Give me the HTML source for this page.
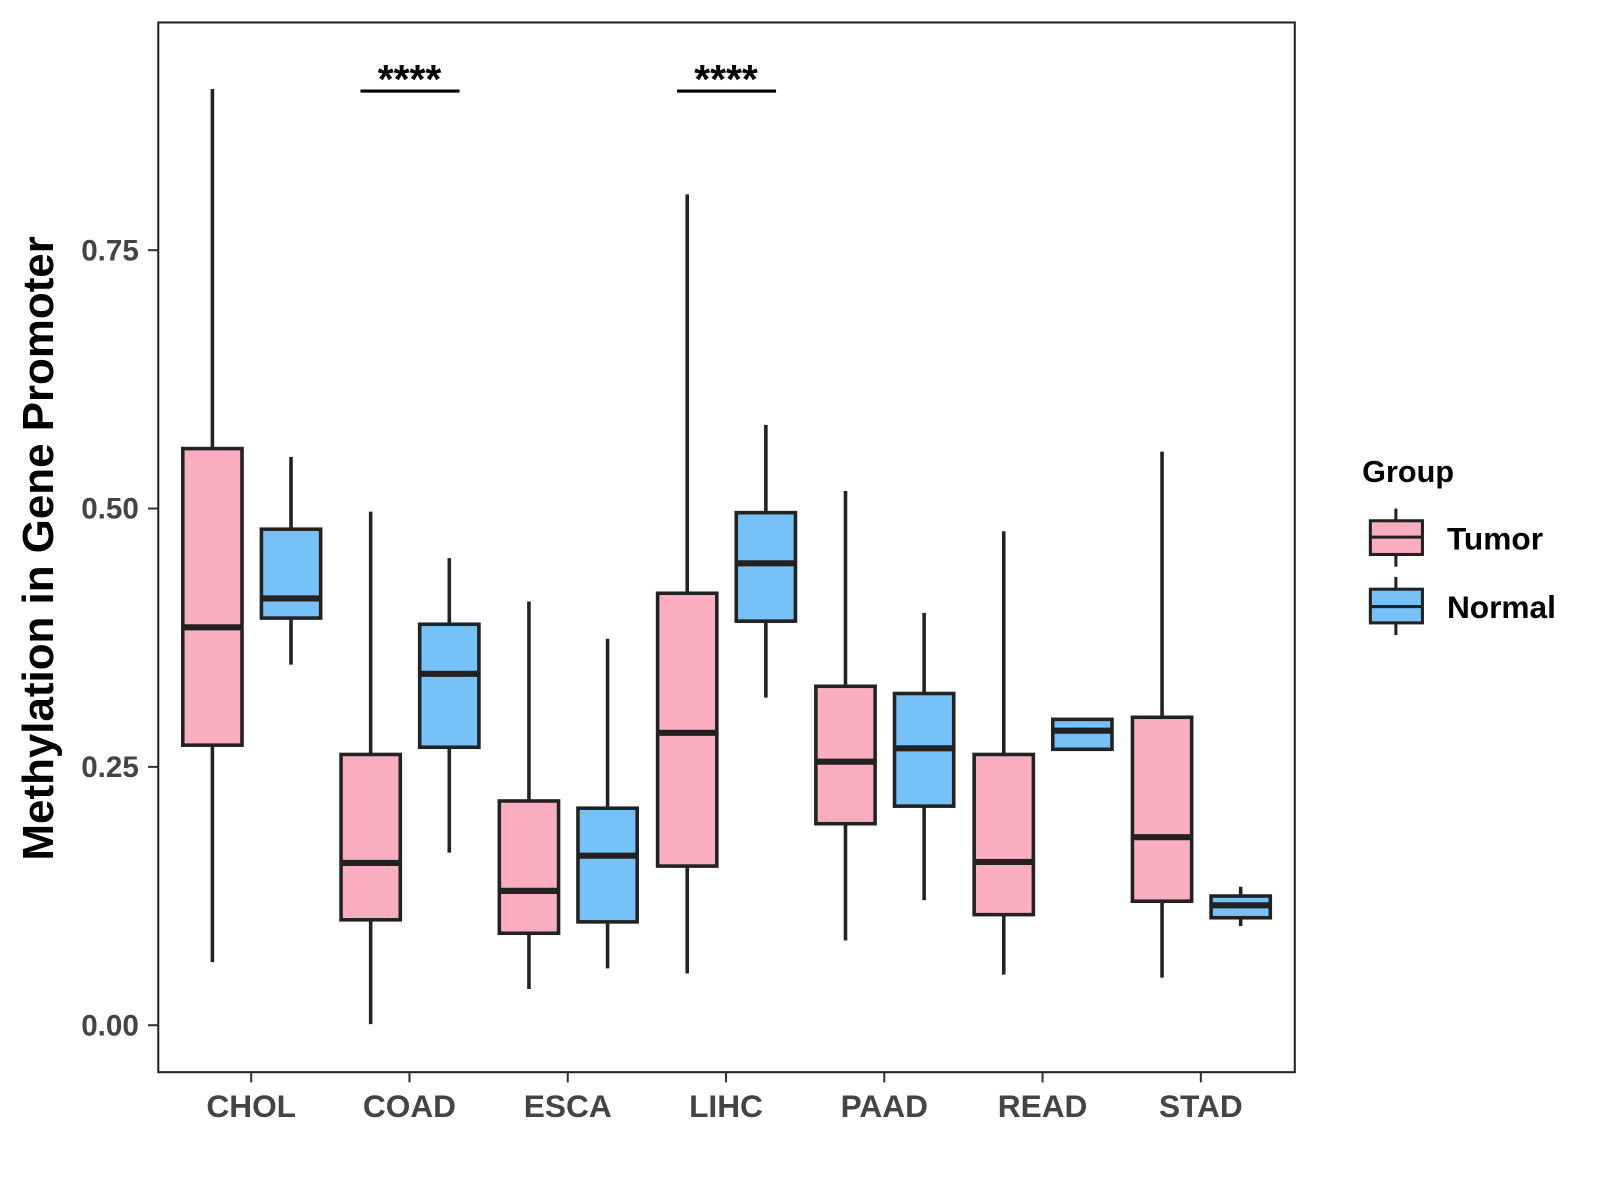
<!DOCTYPE html>
<html><head><meta charset="utf-8"><style>
body{margin:0;background:#fff}
svg{display:block;font-family:"Liberation Sans",Arial,sans-serif}
</style></head><body>
<svg id="chart" width="1600" height="1200" viewBox="0 0 1600 1200">
<g transform="scale(1.02113)">
<rect x="155" y="22" width="1113" height="1028" fill="#fff" stroke="#222" stroke-width="2"/>
<g id="marks"></g>
<g id="axes"></g>
<text x="0" y="0" transform="translate(52,537) rotate(-90)" text-anchor="middle" font-size="43" font-weight="bold" fill="#000">Methylation in Gene Promoter</text>
<g>
<text x="1334" y="472" font-size="30" font-weight="bold">Group</text>
<g>
<line x1="1367" y1="498" x2="1367" y2="555" stroke="#222" stroke-width="3"/>
<rect x="1342" y="510" width="51" height="33" fill="#FBAEC0" stroke="#222" stroke-width="3"/>
<line x1="1342" y1="526" x2="1393" y2="526" stroke="#222" stroke-width="3"/>
<text x="1417" y="538" font-size="31" font-weight="bold">Tumor</text></g>
<g>
<line x1="1367" y1="565" x2="1367" y2="622" stroke="#222" stroke-width="3"/>
<rect x="1342" y="577" width="51" height="33" fill="#75C1F8" stroke="#222" stroke-width="3"/>
<line x1="1342" y1="594" x2="1393" y2="594" stroke="#222" stroke-width="3"/>
<text x="1417" y="605" font-size="31" font-weight="bold">Normal</text></g>
</g>
</g>
</svg>
<script>
const categories=["CHOL","COAD","ESCA","LIHC","PAAD","READ","STAD"];
const tumorStats=[[0.061,0.271,0.385,0.558,0.906],[0.001,0.102,0.157,0.262,0.497],[0.035,0.089,0.130,0.217,0.410],[0.050,0.154,0.283,0.418,0.804],[0.082,0.195,0.255,0.328,0.517],[0.049,0.107,0.158,0.262,0.478],[0.046,0.120,0.182,0.298,0.555]];
const normalStats=[[0.349,0.394,0.413,0.480,0.550],[0.167,0.269,0.340,0.388,0.452],[0.055,0.100,0.164,0.210,0.374],[0.317,0.391,0.447,0.496,0.581],[0.121,0.212,0.268,0.321,0.399],[0.267,0.267,0.285,0.296,0.297],[0.096,0.104,0.116,0.125,0.134]];
const yTicks=[0,0.25,0.5,0.75];
const yTickLabels=["0.00","0.25","0.50","0.75"];
const sigCategories=["COAD","LIHC"];
const sigLabels=["****","****"];
const sigY=0.904;

const NS="http://www.w3.org/2000/svg";
function y(v){return 1004-v*1012;}
function xc(i){return 246+i*155;}
function mk(tag,attrs,parent,text){const e=document.createElementNS(NS,tag);for(const k in attrs)e.setAttribute(k,attrs[k]);if(text!==undefined)e.textContent=text;parent.appendChild(e);return e;}
const marks=document.getElementById('marks'),axes=document.getElementById('axes');
function box(cx,s,fill,name){
  const g=mk('g',{},marks);
  
  
  mk('line',{x1:cx,x2:cx,y1:y(s[4]),y2:y(s[0]),stroke:'#222','stroke-width':3.5},g);
  mk('rect',{x:cx-29,y:y(s[3]),width:58,height:Math.max(0,y(s[1])-y(s[3])),fill:fill,stroke:'#222','stroke-width':3.5},g);
  mk('line',{x1:cx-29,x2:cx+29,y1:y(s[2]),y2:y(s[2]),stroke:'#222','stroke-width':6},g);
}
categories.forEach((c,i)=>{
  box(xc(i)-38,tumorStats[i],'#FBAEC0','box-tumor-'+c.toLowerCase());
  box(xc(i)+39,normalStats[i],'#75C1F8','box-normal-'+c.toLowerCase());
  const t=mk('line',{x1:xc(i),x2:xc(i),y1:1050,y2:1060,stroke:'#333','stroke-width':2},axes);
  
  
  const l=mk('text',{x:xc(i),y:1094,'text-anchor':'middle','font-size':31,'font-weight':'bold',fill:'#444'},axes,c);
  
  
});
yTicks.forEach((v,i)=>{
  const t=mk('line',{x1:145,x2:155,y1:y(v),y2:y(v),stroke:'#333','stroke-width':2},axes);
  
  
  const l=mk('text',{x:136,y:y(v)+10,'text-anchor':'end','font-size':29,'font-weight':'bold',fill:'#444'},axes,yTickLabels[i]);
  
  
});
sigCategories.forEach((c,k)=>{
  const i=categories.indexOf(c);
  const ln=mk('line',{x1:xc(i)-48,x2:xc(i)+49,y1:y(sigY),y2:y(sigY),stroke:'#000','stroke-width':3},marks);
  
  
  const t=mk('text',{x:xc(i),y:y(sigY)+2,'text-anchor':'middle','font-size':40,'font-weight':'bold'},marks,sigLabels[k]);
  
  
});
</script>
</body></html>
